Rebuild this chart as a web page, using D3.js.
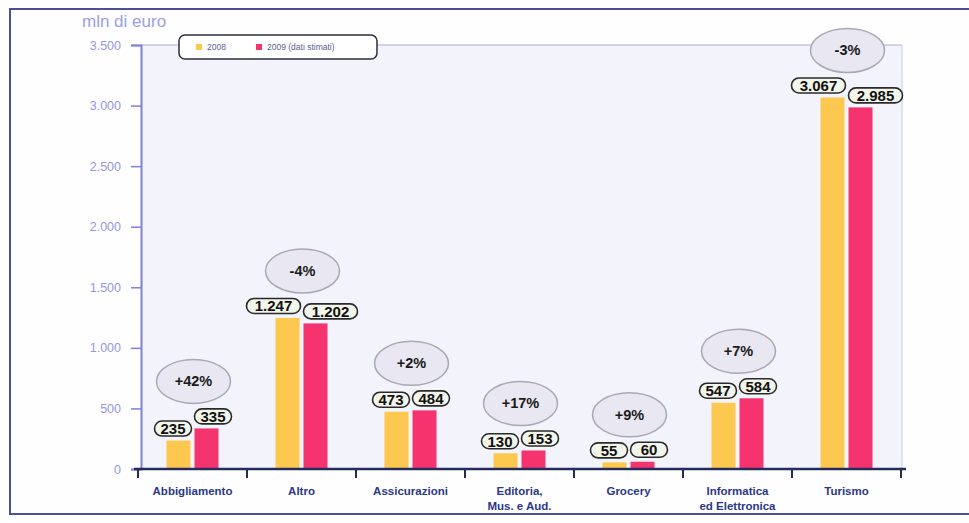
<!DOCTYPE html>
<html>
<head>
<meta charset="utf-8">
<script src="https://cdn.jsdelivr.net/npm/d3@7"></script>
<style>
  html, body { margin: 0; padding: 0; background: #ffffff; }
  svg { display: block; }
</style>
</head>
<body>
<svg id="chart" width="969" height="523"></svg>
<script>
// Online sales by sector, million euro
const categories = [
  ["Abbigliamento"],
  ["Altro"],
  ["Assicurazioni"],
  ["Editoria,", "Mus. e Aud."],
  ["Grocery"],
  ["Informatica", "ed Elettronica"],
  ["Turismo"]
];
const values2008 = [235, 1247, 473, 130, 55, 547, 3067];
const values2009 = [335, 1202, 484, 153, 60, 584, 2985];
const changeLabels = ["+42%", "-4%", "+2%", "+17%", "+9%", "+7%", "-3%"];
const yTicks = [0, 500, 1000, 1500, 2000, 2500, 3000, 3500];
const seriesNames = ["2008", "2009 (dati stimati)"];

const colors = { y2008: "#fdc84f", y2009: "#f5346f" };
const fmt = d3.formatLocale({ decimal: ",", thousands: ".", grouping: [3], currency: ["€", ""] }).format(",d");

const svg = d3.select("#chart");

// outer frame
svg.append("rect")
  .attr("x", 10).attr("y", 9).attr("width", 980).attr("height", 505)
  .attr("fill", "#fefefe").attr("stroke", "#4b5096").attr("stroke-width", 2);

const x0 = 141, x1 = 902, yTop = 45, yBottom = 469;
const keys = categories.map(c => c.join(" "));

const x = d3.scaleBand().domain(keys).range([138, 901]).paddingInner(0).paddingOuter(0);
const y = d3.scaleLinear().domain([0, 3500]).range([yBottom, yTop]);

// plot background
svg.append("rect")
  .attr("x", x0).attr("y", yTop).attr("width", x1 - x0).attr("height", yBottom - yTop)
  .attr("fill", "#f3f4fb");
svg.append("line")
  .attr("x1", x0).attr("x2", x1).attr("y1", yTop).attr("y2", yTop)
  .attr("stroke", "#a9abe0").attr("stroke-width", 1);
svg.append("line")
  .attr("x1", x1).attr("x2", x1).attr("y1", yTop).attr("y2", yBottom)
  .attr("stroke", "#c9cbe6").attr("stroke-width", 1);

// unit label
svg.append("text")
  .attr("x", 82).attr("y", 27)
  .attr("font-family", "Liberation Sans, Arial, sans-serif")
  .attr("font-size", 17)
  .attr("fill", "#9a9ee6")
  .text("mln di euro");

// y axis
const yAxis = d3.axisLeft(y).tickValues(yTicks).tickSize(10).tickPadding(10).tickFormat(d => fmt(d));
const gy = svg.append("g").attr("transform", `translate(${x0},0)`).call(yAxis);
gy.select(".domain").attr("stroke", "#7d81d8").attr("stroke-width", 2);
gy.selectAll(".tick line").attr("stroke", "#7d81d8").attr("stroke-width", 1.5);
gy.selectAll(".tick text")
  .attr("fill", "#9497dc")
  .attr("font-family", "Liberation Sans, Arial, sans-serif")
  .attr("font-size", 12.5);

// bars
const barW = 24, gap = 4;
const groups = svg.append("g");
keys.forEach((k, i) => {
  const cx = x(k) + x.bandwidth() / 2;
  groups.append("rect")
    .attr("x", cx - gap / 2 - barW).attr("y", y(values2008[i]))
    .attr("width", barW).attr("height", yBottom - y(values2008[i]))
    .attr("fill", colors.y2008);
  groups.append("rect")
    .attr("x", cx + gap / 2).attr("y", y(values2009[i]))
    .attr("width", barW).attr("height", yBottom - y(values2009[i]))
    .attr("fill", colors.y2009);
});

// x axis
const xAxis = d3.axisBottom(x).tickSize(0).tickFormat("");
const gx = svg.append("g").attr("transform", `translate(0,${yBottom})`).call(xAxis);
gx.select(".domain").attr("stroke", "#262c5a").attr("stroke-width", 2.5)
  .attr("d", `M134,0H906`);
const bounds = keys.map(k => x(k)).concat([x(keys[keys.length - 1]) + x.bandwidth()]);
gx.selectAll(".bound").data(bounds).enter().append("line")
  .attr("x1", d => d).attr("x2", d => d).attr("y1", 0).attr("y2", 9)
  .attr("stroke", "#262c5a").attr("stroke-width", 2);

// category labels
keys.forEach((k, i) => {
  const cx = x(k) + x.bandwidth() / 2;
  const t = svg.append("text")
    .attr("x", cx).attr("y", 495)
    .attr("text-anchor", "middle")
    .attr("font-family", "Liberation Sans, Arial, sans-serif")
    .attr("font-weight", "bold")
    .attr("font-size", 11.5)
    .attr("fill", "#2c3886");
  categories[i].forEach((line, j) => {
    t.append("tspan").attr("x", cx).attr("dy", j === 0 ? 0 : 15).text(line);
  });
});

// value pills
function pill(cx, cy, label, anchor) {
  const w = label.length > 3 ? 54 : 37, h = 15;
  const left = anchor === "right" ? cx - w : cx;
  const g = svg.append("g");
  g.append("rect")
    .attr("x", left).attr("y", cy - h / 2).attr("width", w).attr("height", h)
    .attr("rx", 7.5).attr("ry", 7.5)
    .attr("fill", "#f1f5ea").attr("stroke", "#2a2a2a").attr("stroke-width", 1.6);
  g.append("text")
    .attr("x", left + w / 2).attr("y", cy + 5.5)
    .attr("text-anchor", "middle")
    .attr("font-family", "Liberation Sans, Arial, sans-serif")
    .attr("font-weight", "bold")
    .attr("font-size", 15)
    .attr("fill", "#111111")
    .text(label);
}

keys.forEach((k, i) => {
  const cx = x(k) + x.bandwidth() / 2;
  const c1 = y(values2008[i]) - 12;
  const c2 = y(values2009[i]) - 12;
  pill(cx - 1, c1, fmt(values2008[i]), "right");
  pill(cx + 2, c2, fmt(values2009[i]), "left");

  // change bubble
  const ey = Math.min(c1, c2) - 35;
  svg.append("ellipse")
    .attr("cx", cx + 1).attr("cy", ey).attr("rx", 37).attr("ry", 22)
    .attr("fill", "#e9e7f1").attr("stroke", "#a9a8b4").attr("stroke-width", 1.5);
  svg.append("text")
    .attr("x", cx + 1).attr("y", ey + 5)
    .attr("text-anchor", "middle")
    .attr("font-family", "Liberation Sans, Arial, sans-serif")
    .attr("font-weight", "bold")
    .attr("font-size", 14.5)
    .attr("fill", "#1a1a1a")
    .text(changeLabels[i]);
});

// legend
const lg = svg.append("g");
lg.append("rect")
  .attr("x", 179).attr("y", 35).attr("width", 198).attr("height", 24)
  .attr("rx", 6).attr("ry", 6)
  .attr("fill", "#ffffff").attr("stroke", "#2e2e3e").attr("stroke-width", 1.5);
const legendItems = [
  { name: seriesNames[0], color: colors.y2008, x: 196 },
  { name: seriesNames[1], color: colors.y2009, x: 256 }
];
legendItems.forEach(it => {
  lg.append("rect").attr("x", it.x).attr("y", 44).attr("width", 6).attr("height", 6).attr("fill", it.color);
  lg.append("text")
    .attr("x", it.x + 11).attr("y", 50)
    .attr("font-family", "Liberation Sans, Arial, sans-serif")
    .attr("font-size", 8.5)
    .attr("fill", "#5b5c98")
    .text(it.name);
});
</script>
</body>
</html>
